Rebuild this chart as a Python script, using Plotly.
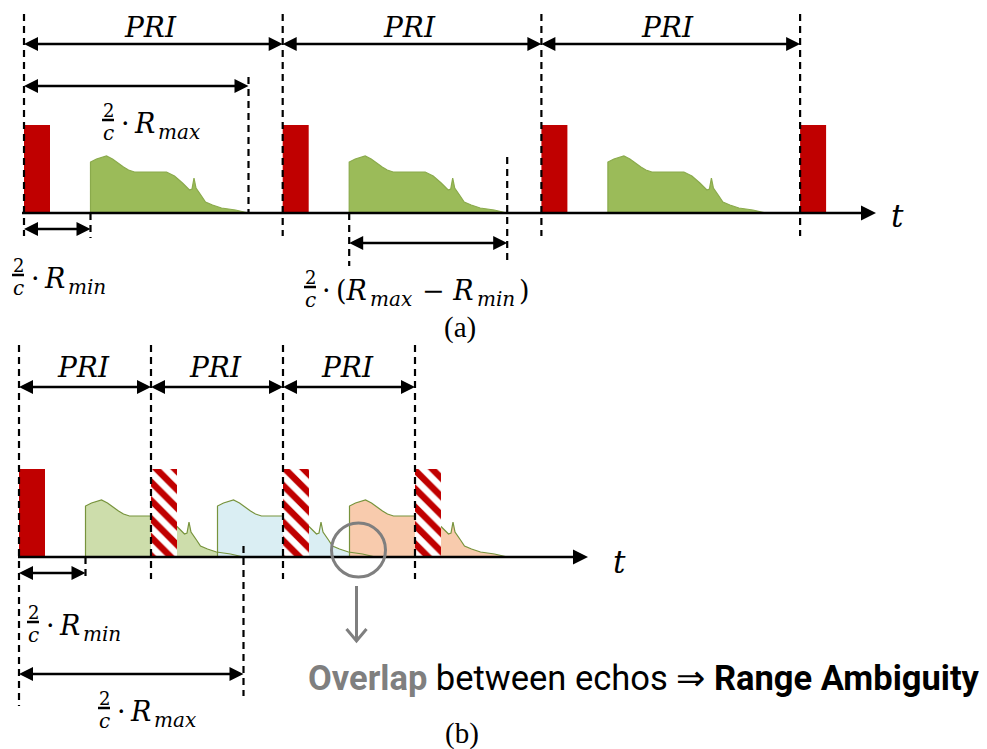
import plotly.graph_objects as go

# ---------------- data ----------------
PRI = {"a": 258.7, "b": 132.0}          # pulse repetition interval (t units)
T_START = {"a": 24.0, "b": 19.0}        # time of first pulse
BASELINE = {"a": 213.0, "b": 557.0}     # level of the time axis
N_PULSES = 4
PULSE_LEN = 26.0
PULSE_AMP = 88.0
RMIN_DELAY = 66.5                       # 2/c * Rmin
# echo profile: time after echo start, amplitude
ECHO_DT = [0, 0, 6, 16, 22, 27, 33, 38, 44, 76, 84, 92, 99, 101.5, 103.5, 105.5, 107, 111, 115, 122, 131, 145, 158]
ECHO_AMP = [0, 51, 54, 57, 54, 50, 46, 43, 41, 41, 37, 30, 23, 24, 35, 25, 23, 17, 11, 8, 5, 3, 0]
ECHO_LEN = ECHO_DT[-1]
RMAX_DELAY = RMIN_DELAY + ECHO_LEN      # 2/c * Rmax
PULSE_KIND = {"a": ["solid"] * 4, "b": ["solid", "striped", "striped", "striped"]}
ECHO_FILL = {"a": ["#9BBB59"] * 3, "b": ["#CDDDAB", "#DAEEF3", "#F8CBAD"]}
ECHO_EDGE = {"a": "#8AAA4C", "b": "#77933C"}

RED = "#C00000"
GRAY = "#7F7F7F"
MATH = "DejaVu Serif"

fig = go.Figure()


def seg_trace(segs, width, dash=None, color="black"):
    xs, ys = [], []
    for (x0, y0, x1, y1) in segs:
        xs += [x0, x1, None]
        ys += [y0, y1, None]
    fig.add_trace(go.Scatter(x=xs, y=ys, mode="lines", xaxis="x2", yaxis="y2",
                             line=dict(color=color, width=width, dash=dash),
                             hoverinfo="skip"))


def harrow(x0, x1, y, head=14, width=2.5, left=True, right=True):
    sx0 = x0 + (head * 0.5 if left else 0)
    sx1 = x1 - (head * 0.5 if right else 0)
    seg_trace([(sx0, y, sx1, y)], width)
    mx, my, ms = [], [], []
    if left:
        mx.append(x0); my.append(y); ms.append("arrow-left")
    if right:
        mx.append(x1); my.append(y); ms.append("arrow-right")
    fig.add_trace(go.Scatter(x=mx, y=my, mode="markers", xaxis="x2", yaxis="y2",
                             marker=dict(symbol=ms, size=head, color="black",
                                         line=dict(width=0)),
                             hoverinfo="skip"))


annotations = []
shapes = []


def txt(x, y, s, size, family=MATH, xanchor="center", yanchor="middle", color="black"):
    annotations.append(dict(x=x, y=y, xref="x", yref="y", text=s, showarrow=False,
                            xanchor=xanchor, yanchor=yanchor, borderpad=0,
                            font=dict(family=family, size=size, color=color)))


def frac(xc, yb):
    txt(xc, yb - 10, "2", 18)
    txt(xc, yb + 12.5, "<i>c</i>", 20)
    shapes.append(dict(type="line", xref="x", yref="y", x0=xc - 6, x1=xc + 6,
                       y0=yb, y1=yb, line=dict(color="black", width=2.5)))


def r_label(xc, yb, sub):
    frac(xc, yb)
    r_end = xc + 48
    txt(r_end, yb + 3, "·\u2009<i>R</i>", 27, xanchor="right")
    txt(r_end + 1, yb + 12, "<i>%s</i>" % sub, 20, xanchor="left")


# ---------------- echoes (main layer) ----------------
for p in ["a", "b"]:
    base = BASELINE[p]
    polys = []
    for k, fill in enumerate(ECHO_FILL[p]):
        x0 = T_START[p] + k * PRI[p] + RMIN_DELAY
        xs = [x0 + d for d in ECHO_DT]
        ys = [base - a for a in ECHO_AMP]
        polys.append((xs, ys))
        fig.add_trace(go.Scatter(x=xs, y=ys, mode="lines", fill="toself",
                                 fillcolor=fill, line=dict(width=0, color=fill),
                                 hoverinfo="skip"))
    for xs, ys in polys:
        fig.add_trace(go.Scatter(x=xs, y=ys, mode="lines",
                                 line=dict(width=1.2, color=ECHO_EDGE[p]),
                                 hoverinfo="skip"))

# ---------------- pulses (overlay layer) ----------------
for p in ["a", "b"]:
    base = BASELINE[p]
    for kind in ["solid", "striped"]:
        cx = [T_START[p] + k * PRI[p] + PULSE_LEN / 2 for k in range(N_PULSES)
              if PULSE_KIND[p][k] == kind]
        if not cx:
            continue
        if kind == "solid":
            marker = dict(color=RED, line=dict(width=0))
        else:
            marker = dict(color="white", line=dict(width=0),
                          pattern=dict(shape="\\", fgcolor=RED, bgcolor="white",
                                       size=13, solidity=0.5, fgopacity=1))
        fig.add_trace(go.Bar(x=cx, y=[-PULSE_AMP] * len(cx), base=[base] * len(cx),
                             width=PULSE_LEN, marker=marker, xaxis="x2", yaxis="y2",
                             hoverinfo="skip"))

# ---------------- dashed guides ----------------
DASH = "7px,5px"
ta, Pa, ba = T_START["a"], PRI["a"], BASELINE["a"]
tb, Pb, bb = T_START["b"], PRI["b"], BASELINE["b"]
segs = [(ta + k * Pa, 14, ta + k * Pa, 236) for k in range(N_PULSES)]
segs += [(ta + RMAX_DELAY, 77, ta + RMAX_DELAY, ba),
         (ta + RMIN_DELAY, ba, ta + RMIN_DELAY, 238),
         (ta + Pa + RMIN_DELAY, ba, ta + Pa + RMIN_DELAY, 266),
         (ta + Pa + RMAX_DELAY, 157, ta + Pa + RMAX_DELAY, 264)]
segs += [(tb, 345, tb, 706)]
segs += [(tb + k * Pb, 345, tb + k * Pb, 579) for k in range(1, N_PULSES)]
segs += [(tb + RMAX_DELAY, 546, tb + RMAX_DELAY, 696),
         (tb + RMIN_DELAY, bb, tb + RMIN_DELAY, 581)]
seg_trace(segs, 2.2, dash=DASH)

# ---------------- time axes ----------------
harrow(ta - 2, 876, ba, head=15, width=2.5, left=False)
harrow(tb - 1, 588, bb, head=15, width=2.5, left=False)
txt(897, ba + 3, "<i>t</i>", 31)
txt(619, bb + 5, "<i>t</i>", 31)

# ---------------- dimension arrows ----------------
for k in range(3):
    harrow(ta + k * Pa, ta + (k + 1) * Pa, 44)
    txt(ta + (k + 0.5) * Pa - 3, 27, "<i>PRI</i>", 28)
    harrow(tb + k * Pb, tb + (k + 1) * Pb, 387)
    txt(tb + (k + 0.5) * Pb - 2, 367, "<i>PRI</i>", 28)

harrow(ta, ta + RMAX_DELAY, 86)
harrow(ta, ta + RMIN_DELAY, 229)
harrow(ta + Pa + RMIN_DELAY, ta + Pa + RMAX_DELAY, 243)
harrow(tb, tb + RMIN_DELAY, 573)
harrow(tb, tb + RMAX_DELAY, 674)

# ---------------- formulas ----------------
r_label(108, 120, "max")
r_label(18, 275, "min")
r_label(33, 622, "min")
r_label(104, 708, "max")

# 2/c * (Rmax - Rmin)
yb = 287
frac(310, yb)
txt(368, yb + 3, "·\u2009(<i>R</i>", 27, xanchor="right")
txt(369, yb + 12, "<i>max</i>", 20, xanchor="left")
txt(475, yb + 3, "− <i>R</i>", 27, xanchor="right")
txt(476, yb + 12, "<i>min</i>", 20, xanchor="left")
txt(518, yb + 3, ")", 27, xanchor="left")

# ---------------- captions ----------------
txt(460, 327, "(a)", 29, family="Liberation Serif")
txt(462, 733, "(b)", 29, family="Liberation Serif")

# ---------------- overlap marker ----------------
cx = tb + 2 * Pb + RMIN_DELAY + 9
cy = bb - 7
rad = 27
shapes.append(dict(type="circle", xref="x", yref="y", x0=cx - rad, x1=cx + rad,
                   y0=cy - rad, y1=cy + rad, line=dict(color=GRAY, width=3)))
ay0, ay1 = cy + rad + 9, 641
fig.add_trace(go.Scatter(x=[cx - 2, cx - 2, None, cx - 12, cx - 2, cx + 8],
                         y=[ay0, ay1 - 1, None, ay1 - 12, ay1, ay1 - 12],
                         mode="lines", xaxis="x2", yaxis="y2",
                         line=dict(color=GRAY, width=3), hoverinfo="skip"))

txt(307, 678, '<span style="color:%s"><b>Overlap</b></span> between echos ⇒ <b>Range Ambiguity</b>' % GRAY,
    34.5, family="Roboto", xanchor="left")

# ---------------- layout ----------------
ax = dict(range=[0, 987], visible=False, fixedrange=True)
ay = dict(range=[749, 0], visible=False, fixedrange=True)
fig.update_layout(
    width=987, height=749, margin=dict(l=0, r=0, t=0, b=0),
    paper_bgcolor="white", plot_bgcolor="white", showlegend=False,
    barmode="overlay",
    xaxis=ax, yaxis=ay,
    xaxis2=dict(ax, overlaying="x", anchor="y2"),
    yaxis2=dict(ay, overlaying="y", anchor="x2"),
    annotations=annotations, shapes=shapes,
)
fig.write_html("out.html")
